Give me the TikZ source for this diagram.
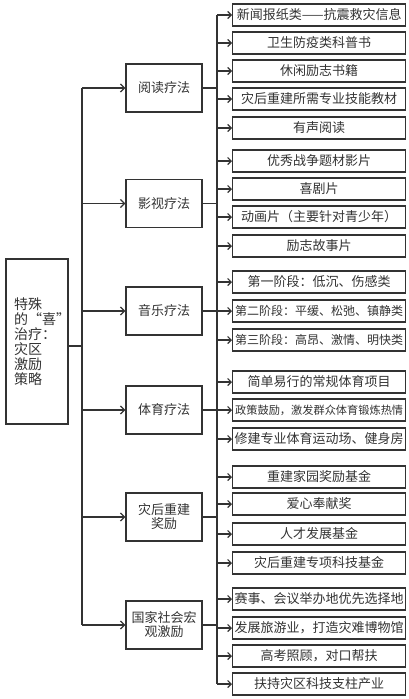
\documentclass[tikz,border=0pt]{standalone}
\usepackage{fontspec}
\setmainfont{Noto Sans CJK SC}
\usetikzlibrary{arrows.meta}
\definecolor{linec}{HTML}{333333}
\newcommand{\fwq}[1]{{\addfontfeature{RawFeature=+fwid}#1}}
\tikzset{
  ln/.style={draw=linec, line width=1.3pt},
  arr/.style={ln, -{Straight Barb[length=4pt,width=8pt,line width=1.3pt]}},
  sarr/.style={ln, -{Straight Barb[length=3.5pt,width=7pt,line width=1.2pt]}},
  mainbox/.style={ln, minimum width=62pt, minimum height=165pt, inner sep=0pt, text width=46pt, align=left, text=linec, font=\fontsize{14}{15}\selectfont},
  catbox/.style={ln, minimum width=76pt, minimum height=48pt, inner sep=0pt, align=center, text=linec, font=\fontsize{13}{14}\selectfont},
  leaf/.style={ln, minimum width=173pt, minimum height=22pt, inner sep=0pt, anchor=west, text=linec, font=\fontsize{13}{14}\selectfont},
  leafs/.style={leaf, font=\fontsize{12}{14}\selectfont},
  leafxs/.style={leaf, font=\fontsize{11.2}{14}\selectfont}
}
\begin{document}
\begin{tikzpicture}[x=1pt,y=-1pt]
\useasboundingbox (0,0) rectangle (408,699);
\fill[white] (0,0) rectangle (408,699);
% main
\node[mainbox] (m) at (37,341.5) {特殊\\的\fwq{“}喜\fwq{”}\\治疗：\\灾区\\激励\\策略};
% categories
\node[catbox] (c1) at (164,88) {阅读疗法};
\node[catbox] (c2) at (164,203.5) {影视疗法};
\node[catbox] (c3) at (164,311) {音乐疗法};
\node[catbox] (c4) at (164,410) {体育疗法};
\node[catbox] (c5) at (164,517) {灾后重建\\奖励};
\node[catbox] (c6) at (164,625) {国家社会宏\\观激励};
% trunk
\coordinate (tA) at (82,88);
\coordinate (tB) at (82,625);
\coordinate (mj) at (82,346);
\draw[ln] (tA) -- (tB);
\draw[ln] (mj -| m.east) -- (mj);
\foreach \c in {c1,c2,c3,c4,c5,c6}{
  \draw[arr] (\c.west -| tA) -- (\c.west);
}
% leaves
\node[leaf] (l1) at (232,15) {新闻报纸类——抗震救灾信息};
\node[leaf] (l2) at (232,43) {卫生防疫类科普书};
\node[leaf] (l3) at (232,71) {休闲励志书籍};
\node[leaf] (l4) at (232,99) {灾后重建所需专业技能教材};
\node[leaf] (l5) at (232,128) {有声阅读};
\node[leaf] (l6) at (232,161) {优秀战争题材影片};
\node[leaf] (l7) at (232,189) {喜剧片};
\node[leaf] (l8) at (232,217) {动画片（主要针对青少年）};
\node[leaf] (l9) at (232,246) {励志故事片};
\node[leaf] (l10) at (232,282) {第一阶段：低沉、伤感类};
\node[leafs] (l11) at (232,311) {第二阶段：平缓、松弛、镇静类};
\node[leafs] (l12) at (232,340) {第三阶段：高昂、激情、明快类};
\node[leaf] (l13) at (232,382) {简单易行的常规体育项目};
\node[leafxs] (l14) at (232,410) {政策鼓励，激发群众体育锻炼热情};
\node[leaf] (l15) at (232,439) {修建专业体育运动场、健身房};
\node[leaf] (l16) at (232,477) {重建家园奖励基金};
\node[leaf] (l17) at (232,504) {爱心奉献奖};
\node[leaf] (l18) at (232,534) {人才发展基金};
\node[leaf] (l19) at (232,563) {灾后重建专项科技基金};
\node[leaf] (l20) at (232,599) {赛事、会议举办地优先选择地};
\node[leaf] (l21) at (232,628) {发展旅游业，打造灾难博物馆};
\node[leaf] (l22) at (232,656) {高考照顾，对口帮扶};
\node[leaf] (l23) at (232,684) {扶持灾区科技支柱产业};
% secondary trunk
\coordinate (sA) at (217,15);
\coordinate (sB) at (217,684);
\draw[ln] (sA) -- (sB);
\foreach \c in {c1,c2,c3,c4,c5,c6}{
  \draw[ln] (\c.east) -- (\c.east -| sA);
}
\foreach \i in {1,...,23}{
  \draw[sarr] (l\i.west -| sA) -- (l\i.west);
}
\end{tikzpicture}
\end{document}
